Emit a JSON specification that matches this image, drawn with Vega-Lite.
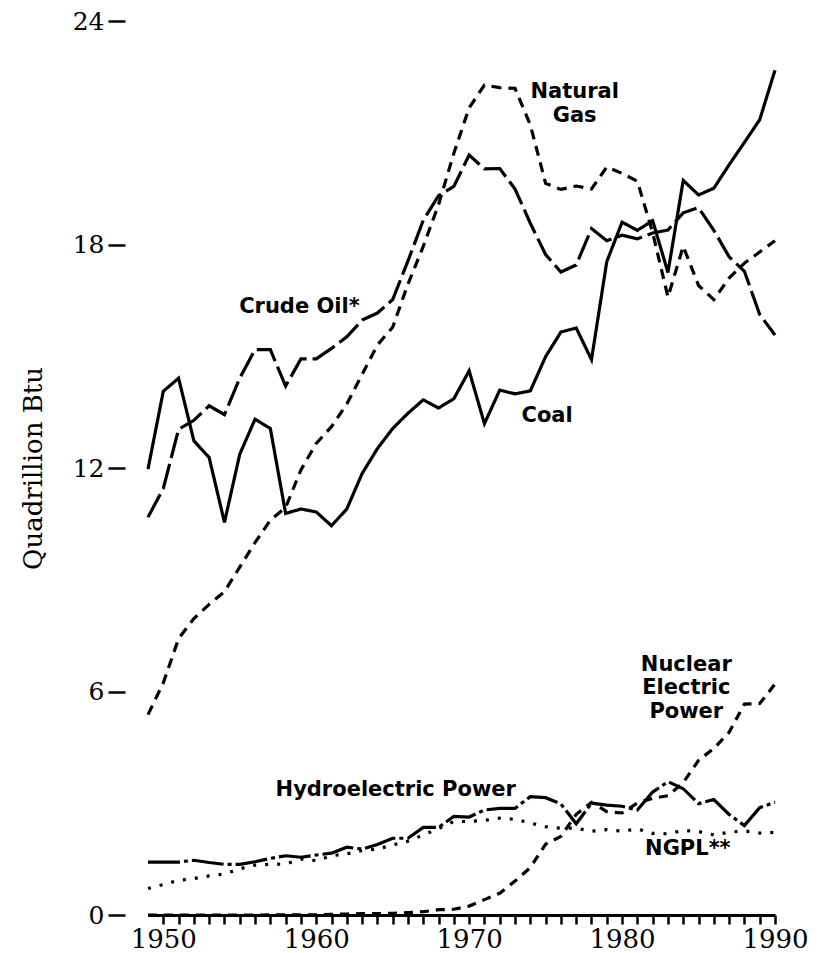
{
  "$schema": "https://vega.github.io/schema/vega-lite/v6.json",
  "autosize": {"type": "none"},
  "padding": {"left": 148, "top": 21, "right": 54, "bottom": 38},
  "width": 627,
  "height": 894,
  "background": "white",
  "config": {"view": {"stroke": null}},
  "datasets": {
    "energy": [
      {"year": 1949, "Coal": 11.97, "Crude Oil": 10.68, "Natural Gas": 5.38, "Hydroelectric Power": 1.42, "Nuclear Electric Power": 0, "NGPL": 0.71},
      {"year": 1950, "Coal": 14.06, "Crude Oil": 11.45, "Natural Gas": 6.23, "Hydroelectric Power": 1.42, "Nuclear Electric Power": 0, "NGPL": 0.82},
      {"year": 1951, "Coal": 14.41, "Crude Oil": 13.04, "Natural Gas": 7.42, "Hydroelectric Power": 1.42, "Nuclear Electric Power": 0, "NGPL": 0.93},
      {"year": 1952, "Coal": 12.73, "Crude Oil": 13.28, "Natural Gas": 7.96, "Hydroelectric Power": 1.47, "Nuclear Electric Power": 0, "NGPL": 0.98},
      {"year": 1953, "Coal": 12.28, "Crude Oil": 13.67, "Natural Gas": 8.34, "Hydroelectric Power": 1.41, "Nuclear Electric Power": 0, "NGPL": 1.05},
      {"year": 1954, "Coal": 10.54, "Crude Oil": 13.43, "Natural Gas": 8.68, "Hydroelectric Power": 1.36, "Nuclear Electric Power": 0, "NGPL": 1.10},
      {"year": 1955, "Coal": 12.37, "Crude Oil": 14.41, "Natural Gas": 9.34, "Hydroelectric Power": 1.36, "Nuclear Electric Power": 0, "NGPL": 1.24},
      {"year": 1956, "Coal": 13.31, "Crude Oil": 15.18, "Natural Gas": 10.00, "Hydroelectric Power": 1.43, "Nuclear Electric Power": 0, "NGPL": 1.34},
      {"year": 1957, "Coal": 13.06, "Crude Oil": 15.18, "Natural Gas": 10.60, "Hydroelectric Power": 1.52, "Nuclear Electric Power": 0.002, "NGPL": 1.36},
      {"year": 1958, "Coal": 10.78, "Crude Oil": 14.20, "Natural Gas": 10.94, "Hydroelectric Power": 1.59, "Nuclear Electric Power": 0.002, "NGPL": 1.37},
      {"year": 1959, "Coal": 10.90, "Crude Oil": 14.93, "Natural Gas": 11.95, "Hydroelectric Power": 1.55, "Nuclear Electric Power": 0.002, "NGPL": 1.50},
      {"year": 1960, "Coal": 10.82, "Crude Oil": 14.93, "Natural Gas": 12.66, "Hydroelectric Power": 1.61, "Nuclear Electric Power": 0.006, "NGPL": 1.46},
      {"year": 1961, "Coal": 10.45, "Crude Oil": 15.21, "Natural Gas": 13.11, "Hydroelectric Power": 1.66, "Nuclear Electric Power": 0.02, "NGPL": 1.59},
      {"year": 1962, "Coal": 10.90, "Crude Oil": 15.52, "Natural Gas": 13.72, "Hydroelectric Power": 1.82, "Nuclear Electric Power": 0.026, "NGPL": 1.64},
      {"year": 1963, "Coal": 11.85, "Crude Oil": 15.97, "Natural Gas": 14.51, "Hydroelectric Power": 1.77, "Nuclear Electric Power": 0.038, "NGPL": 1.73},
      {"year": 1964, "Coal": 12.52, "Crude Oil": 16.16, "Natural Gas": 15.30, "Hydroelectric Power": 1.89, "Nuclear Electric Power": 0.04, "NGPL": 1.77},
      {"year": 1965, "Coal": 13.06, "Crude Oil": 16.52, "Natural Gas": 15.78, "Hydroelectric Power": 2.06, "Nuclear Electric Power": 0.043, "NGPL": 1.88},
      {"year": 1966, "Coal": 13.47, "Crude Oil": 17.56, "Natural Gas": 16.94, "Hydroelectric Power": 2.06, "Nuclear Electric Power": 0.064, "NGPL": 1.98},
      {"year": 1967, "Coal": 13.83, "Crude Oil": 18.65, "Natural Gas": 17.95, "Hydroelectric Power": 2.35, "Nuclear Electric Power": 0.088, "NGPL": 2.15},
      {"year": 1968, "Coal": 13.61, "Crude Oil": 19.31, "Natural Gas": 19.07, "Hydroelectric Power": 2.35, "Nuclear Electric Power": 0.142, "NGPL": 2.32},
      {"year": 1969, "Coal": 13.86, "Crude Oil": 19.56, "Natural Gas": 20.45, "Hydroelectric Power": 2.65, "Nuclear Electric Power": 0.154, "NGPL": 2.51},
      {"year": 1970, "Coal": 14.61, "Crude Oil": 20.40, "Natural Gas": 21.67, "Hydroelectric Power": 2.63, "Nuclear Electric Power": 0.239, "NGPL": 2.51},
      {"year": 1971, "Coal": 13.19, "Crude Oil": 20.03, "Natural Gas": 22.28, "Hydroelectric Power": 2.82, "Nuclear Electric Power": 0.413, "NGPL": 2.54},
      {"year": 1972, "Coal": 14.09, "Crude Oil": 20.04, "Natural Gas": 22.21, "Hydroelectric Power": 2.86, "Nuclear Electric Power": 0.584, "NGPL": 2.60},
      {"year": 1973, "Coal": 13.99, "Crude Oil": 19.49, "Natural Gas": 22.19, "Hydroelectric Power": 2.86, "Nuclear Electric Power": 0.910, "NGPL": 2.57},
      {"year": 1974, "Coal": 14.07, "Crude Oil": 18.57, "Natural Gas": 21.21, "Hydroelectric Power": 3.18, "Nuclear Electric Power": 1.272, "NGPL": 2.47},
      {"year": 1975, "Coal": 14.99, "Crude Oil": 17.73, "Natural Gas": 19.64, "Hydroelectric Power": 3.15, "Nuclear Electric Power": 1.900, "NGPL": 2.37},
      {"year": 1976, "Coal": 15.65, "Crude Oil": 17.26, "Natural Gas": 19.48, "Hydroelectric Power": 2.98, "Nuclear Electric Power": 2.111, "NGPL": 2.33},
      {"year": 1977, "Coal": 15.76, "Crude Oil": 17.45, "Natural Gas": 19.57, "Hydroelectric Power": 2.45, "Nuclear Electric Power": 2.702, "NGPL": 2.33},
      {"year": 1978, "Coal": 14.91, "Crude Oil": 18.43, "Natural Gas": 19.49, "Hydroelectric Power": 3.0, "Nuclear Electric Power": 3.024, "NGPL": 2.25},
      {"year": 1979, "Coal": 17.54, "Crude Oil": 18.10, "Natural Gas": 20.08, "Hydroelectric Power": 2.95, "Nuclear Electric Power": 2.776, "NGPL": 2.29},
      {"year": 1980, "Coal": 18.60, "Crude Oil": 18.25, "Natural Gas": 19.91, "Hydroelectric Power": 2.92, "Nuclear Electric Power": 2.739, "NGPL": 2.25},
      {"year": 1981, "Coal": 18.38, "Crude Oil": 18.15, "Natural Gas": 19.70, "Hydroelectric Power": 2.82, "Nuclear Electric Power": 3.008, "NGPL": 2.31},
      {"year": 1982, "Coal": 18.64, "Crude Oil": 18.31, "Natural Gas": 18.32, "Hydroelectric Power": 3.30, "Nuclear Electric Power": 3.131, "NGPL": 2.19},
      {"year": 1983, "Coal": 17.25, "Crude Oil": 18.39, "Natural Gas": 16.59, "Hydroelectric Power": 3.58, "Nuclear Electric Power": 3.203, "NGPL": 2.18},
      {"year": 1984, "Coal": 19.72, "Crude Oil": 18.85, "Natural Gas": 17.95, "Hydroelectric Power": 3.39, "Nuclear Electric Power": 3.553, "NGPL": 2.27},
      {"year": 1985, "Coal": 19.33, "Crude Oil": 18.99, "Natural Gas": 16.90, "Hydroelectric Power": 2.99, "Nuclear Electric Power": 4.149, "NGPL": 2.24},
      {"year": 1986, "Coal": 19.51, "Crude Oil": 18.38, "Natural Gas": 16.52, "Hydroelectric Power": 3.10, "Nuclear Electric Power": 4.471, "NGPL": 2.15},
      {"year": 1987, "Coal": 20.14, "Crude Oil": 17.67, "Natural Gas": 17.10, "Hydroelectric Power": 2.70, "Nuclear Electric Power": 4.906, "NGPL": 2.22},
      {"year": 1988, "Coal": 20.74, "Crude Oil": 17.28, "Natural Gas": 17.50, "Hydroelectric Power": 2.40, "Nuclear Electric Power": 5.661, "NGPL": 2.26},
      {"year": 1989, "Coal": 21.35, "Crude Oil": 16.12, "Natural Gas": 17.80, "Hydroelectric Power": 2.88, "Nuclear Electric Power": 5.677, "NGPL": 2.20},
      {"year": 1990, "Coal": 22.68, "Crude Oil": 15.57, "Natural Gas": 18.10, "Hydroelectric Power": 3.03, "Nuclear Electric Power": 6.20, "NGPL": 2.22}
    ],
    "labels": [
      {"label": "Natural", "year": 1976.9, "value": 22.09},
      {"label": "Gas", "year": 1976.9, "value": 21.45},
      {"label": "Crude Oil*", "year": 1958.9, "value": 16.32},
      {"label": "Coal", "year": 1975.1, "value": 13.4},
      {"label": "Hydroelectric Power", "year": 1965.2, "value": 3.36},
      {"label": "Nuclear", "year": 1984.2, "value": 6.71},
      {"label": "Electric", "year": 1984.2, "value": 6.09},
      {"label": "Power", "year": 1984.2, "value": 5.45},
      {"label": "NGPL**", "year": 1984.3, "value": 1.77}
    ]
  },
  "encoding": {
    "x": {
      "field": "year", "type": "quantitative",
      "scale": {"domain": [1949, 1990], "nice": false, "zero": false},
      "axis": {
        "title": null,
        "values": [1950,1951,1952,1953,1954,1955,1956,1957,1958,1959,1960,1961,1962,1963,1964,1965,1966,1967,1968,1969,1970,1971,1972,1973,1974,1975,1976,1977,1978,1979,1980,1981,1982,1983,1984,1985,1986,1987,1988,1989,1990],
        "format": "d",
        "labelOpacity": {"condition": {"test": "datum.value % 10 !== 0", "value": 0}, "value": 1},
        "labelOverlap": false,
        "labelFlush": false,
        "labelBound": false,
        "grid": false,
        "ticks": true,
        "domainColor": "black",
        "domainWidth": 3,
        "tickColor": "black",
        "tickWidth": 2.5,
        "tickSize": 9,
        "labelFont": "DejaVu Serif",
        "labelFontSize": 26,
        "labelColor": "black",
        "labelPadding": 2
      }
    },
    "y": {
      "field": "value", "type": "quantitative",
      "scale": {"domain": [0, 24], "nice": false},
      "axis": {
        "title": "Quadrillion Btu",
        "values": [0, 6, 12, 18, 24],
        "domain": false,
        "grid": false,
        "offset": 23,
        "tickSize": 17,
        "tickWidth": 2.5,
        "tickColor": "black",
        "labelFont": "DejaVu Serif",
        "labelFontSize": 25,
        "labelColor": "black",
        "labelPadding": 4,
        "titleFont": "DejaVu Serif",
        "titleFontSize": 26,
        "titleFontWeight": "normal",
        "titleColor": "black",
        "titlePadding": 26
      }
    }
  },
  "layer": [
    {
      "data": {"name": "energy"},
      "transform": [
        {"fold": ["Coal", "Crude Oil", "Natural Gas", "Hydroelectric Power", "Nuclear Electric Power", "NGPL"], "as": ["source", "value"]}
      ],
      "mark": {"type": "line", "color": "black", "strokeWidth": 3.2, "strokeCap": "butt", "strokeJoin": "miter"},
      "encoding": {
        "detail": {"field": "source"},
        "strokeDash": {
          "field": "source", "type": "nominal",
          "scale": {
            "domain": ["Coal", "Crude Oil", "Natural Gas", "Hydroelectric Power", "Nuclear Electric Power", "NGPL"],
            "range": [[1, 0], [26, 6], [10, 7], [32, 4, 4, 4], [9, 7], [3, 9]]
          },
          "legend": null
        }
      }
    },
    {
      "data": {"name": "labels"},
      "mark": {"type": "text", "font": "DejaVu Sans", "fontWeight": "bold", "fontSize": 21, "color": "black", "align": "center", "baseline": "middle"},
      "encoding": {
        "text": {"field": "label"}
      }
    }
  ]
}
